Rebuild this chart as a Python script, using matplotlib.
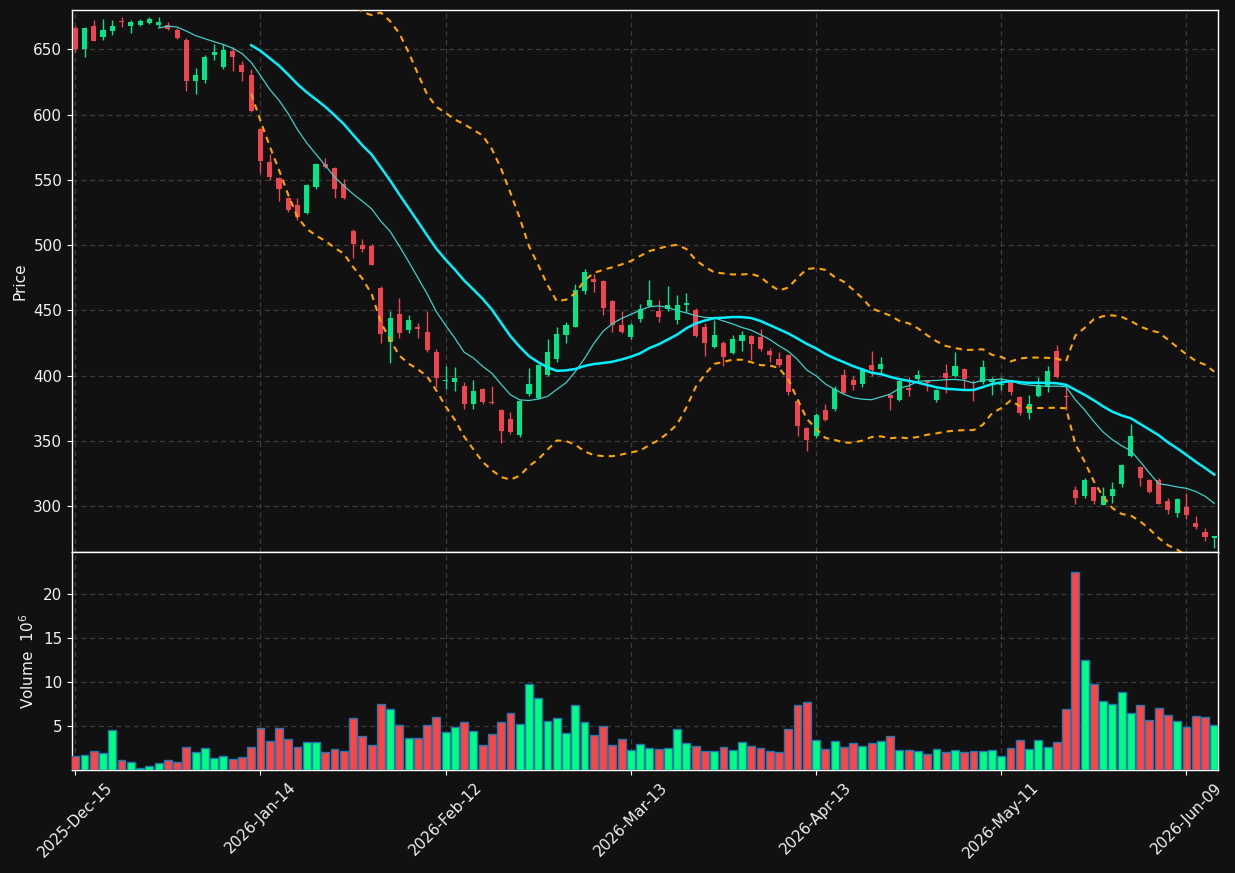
"""Candlestick chart with MA10/MA20, Bollinger bands and volume panel."""

import matplotlib
matplotlib.use("Agg")
import matplotlib.pyplot as plt
import numpy as np
import pandas as pd

# trading calendar (NYSE holidays skipped)
start_date = "2025-12-15"
n_bars = 124
holidays = ["2025-12-25", "2026-01-01", "2026-01-19", "2026-02-16",
            "2026-04-03", "2026-05-25"]

opens = [666, 650, 668, 659, 664, 671.5, 667.6, 668.4, 670, 668.4,
         668.4, 664.5, 657, 625.7, 626.5, 645.4, 636.2, 648.5, 637.8, 630,
         588.6, 563.5, 551.3, 536, 530.4, 524.8, 544.6, 562, 559, 546.7,
         510.7, 500, 499.3, 467.1, 426, 447.3, 435.2, 437.5, 433.5, 418.2,
         396, 395.5, 392.2, 378.6, 389.9, 380, 373.8, 366.9, 354.9, 386,
         383, 400.6, 413, 431.4, 437.5, 465, 474, 472.5, 457.2, 438.8,
         430, 443.4, 453.4, 449.5, 451, 442.7, 454.5, 450.3, 437.3, 422,
         425, 417.4, 426.6, 430.4, 429.6, 418.9, 412.8, 415.9, 380.7, 360.3,
         354.1, 373.8, 374.6, 400.3, 396.7, 393.7, 408.2, 405.2, 385.3, 381.5,
         390.6, 397.5, 396, 381.5, 402.1, 399.8, 405.2, 389.9, 395.2, 395.2,
         393, 395.2, 383.5, 371.7, 384.7, 391.6, 418.9, 384.5, 312.3, 307.5,
         314.6, 301.3, 308.2, 316.7, 338.8, 330.2, 320, 320, 304.2, 295,
         299.6, 287.3, 280.4, 276]
highs = [668, 667, 672, 673, 672, 675, 672, 673, 674.5, 675,
         671, 666, 658.4, 636, 645.4, 653.8, 653.8, 651.5, 640.8, 634.7,
         590, 569.7, 552, 537, 535.8, 547, 563, 567, 560, 550.8,
         512.3, 504.6, 501, 468.7, 449.5, 459.5, 446.5, 440, 449.5, 420.7,
         407.5, 406.7, 395.5, 397, 390.5, 392.2, 374.5, 372, 381.5, 405.7,
         409, 428.1, 437.3, 441.1, 470, 481.7, 477.8, 473.5, 458, 449.3,
         440, 455, 473.3, 458, 468.7, 461.8, 463.3, 451.5, 440.4, 442.7,
         426.5, 431.2, 434.2, 431, 435.8, 421.2, 418.2, 416.5, 381.5, 361,
         371.5, 378.4, 392.2, 405, 399.8, 406, 418.9, 414.3, 386, 397,
         399, 404.4, 397, 390, 409, 418.2, 406, 396.7, 412, 399,
         399, 396, 384.5, 385.5, 398.8, 407.5, 423.7, 391.6, 315.4, 321.5,
         315, 314.4, 318.9, 332.7, 363.3, 331, 321, 321.5, 306.7, 306,
         309.8, 292.2, 283.5, 277.5]
lows = [648, 644, 656, 657, 661, 667, 662.5, 667.5, 669.5, 667,
        664.7, 658, 618, 616, 624, 641.6, 634.7, 633, 625.7, 601.8,
        555, 549.8, 533.5, 525, 519, 524, 543, 559, 535.8, 535.5,
        490, 495, 485, 425.3, 409.5, 429, 433, 429, 418, 391.4,
        389.6, 388, 374.3, 374.3, 378, 378, 348.3, 355.4, 352.9, 384.3,
        382, 399.5, 410.5, 425.3, 437, 462.3, 464.3, 446.7, 433.7, 432.6,
        428, 441, 452.5, 441.4, 449.5, 439.4, 448.6, 430, 415.3, 421.5,
        407.7, 416.5, 419, 412, 419.2, 410.5, 407, 385, 354, 342,
        352.4, 365.5, 372.8, 386.5, 389.1, 391.6, 400, 402.1, 373.8, 380.5,
        384.5, 396, 388.3, 380, 386.8, 399, 390, 380.7, 394, 385.3,
        389, 385.5, 369.7, 366.7, 384, 387.6, 398.5, 373.8, 302, 306,
        302, 301, 302.9, 315, 337.6, 315.4, 310, 301.5, 294, 291.7,
        290.6, 282.7, 273.6, 267.7]
closes = [650, 666, 656.4, 665, 667.6, 671, 670.7, 671.4, 673, 670.7,
          665.3, 658.6, 625.7, 630, 644, 647.7, 649.2, 643.9, 632.4, 602.6,
          564.5, 552.3, 543.1, 527, 521.7, 545.7, 562, 559.5, 543.1, 536.2,
          501, 497, 485, 431.9, 444.2, 432.9, 442.7, 436, 420, 398.5,
          397, 398.3, 378, 388, 380, 379.3, 358, 357, 380.7, 393.7,
          408.2, 418.2, 432, 438.8, 465.6, 479.4, 472, 452, 439, 433.7,
          438.6, 451, 458, 445.2, 454.1, 454.1, 455.8, 430.4, 425, 431.2,
          414.3, 428.1, 431.2, 424.3, 420.5, 415.9, 408.2, 387.8, 361.8, 351.1,
          370.2, 366.1, 389.9, 387, 392.9, 405, 404.4, 409, 383, 396,
          389.1, 400.6, 394.5, 389.1, 398.3, 407.5, 397.5, 388.4, 406.7, 397.5,
          394, 387.8, 371.7, 378.4, 392.7, 403.6, 399.3, 384, 306.7, 320,
          304.4, 307.8, 313.1, 331.7, 353.9, 322, 310.8, 302, 296.8, 305.7,
          293.4, 284.3, 276.6, 277]
# volume in millions
volumes = [1.56, 1.68, 2.14, 1.91, 4.54, 1.11, 0.88, 0.19, 0.42, 0.76,
           1.11, 0.88, 2.59, 2.02, 2.48, 1.34, 1.56, 1.22, 1.45, 2.59,
           4.77, 3.28, 4.77, 3.51, 2.59, 3.17, 3.17, 2.02, 2.37, 2.14,
           5.91, 3.85, 2.82, 7.51, 6.94, 5.11, 3.62, 3.62, 5.11, 6.03,
           4.31, 4.88, 5.45, 4.43, 2.82, 4.08, 5.45, 6.48, 5.23, 9.80,
           8.20, 5.57, 5.91, 4.20, 7.40, 5.45, 3.97, 5.00, 2.82, 3.51,
           2.25, 2.94, 2.48, 2.37, 2.48, 4.65, 3.05, 2.71, 2.14, 2.14,
           2.59, 2.25, 3.17, 2.71, 2.48, 2.14, 2.02, 4.65, 7.40, 7.74,
           3.40, 2.37, 3.28, 2.59, 3.05, 2.71, 3.05, 3.28, 3.85, 2.25,
           2.25, 2.14, 1.79, 2.37, 2.02, 2.25, 2.02, 2.14, 2.14, 2.25,
           1.56, 2.48, 3.40, 2.37, 3.40, 2.59, 3.17, 6.94, 22.5, 12.55,
           9.80, 7.86, 7.51, 8.89, 6.48, 7.40, 5.68, 7.06, 6.26, 5.57,
           4.88, 6.14, 6.03, 5.11]

BG = "#111111"
UP, DOWN = "#00e688", "#f04450"
VOL_UP, VOL_DOWN, VOL_EDGE = "#00ff80", "#ff4444", "#1f77b4"

dates = pd.bdate_range(start_date, periods=n_bars, freq="C", holidays=holidays)
df = pd.DataFrame({"open": opens, "high": highs, "low": lows,
                   "close": closes, "volume": volumes}, index=dates)
x = np.arange(len(df))
up = (df["close"] >= df["open"]).to_numpy()

ma10 = df["close"].rolling(10).mean()
ma20 = df["close"].rolling(20).mean()
sd20 = df["close"].rolling(20).std(ddof=0)
bb_hi = ma20 + 2 * sd20
bb_lo = ma20 - 2 * sd20

fig = plt.figure(figsize=(12.35, 8.73), dpi=100, facecolor=BG)
ax = fig.add_axes([0.0583, 0.3677, 0.9279, 0.6208], facecolor=BG)
axv = fig.add_axes([0.0583, 0.1180, 0.9279, 0.2497], facecolor=BG, sharex=ax)

# candles
colors = np.where(up, UP, DOWN)
body_lo = np.minimum(df["open"], df["close"])
body_h = np.maximum(np.abs(df["close"] - df["open"]), 0.6)
ax.vlines(x, df["low"], df["high"], colors=colors, linewidth=1.0, zorder=3)
ax.bar(x, body_h, bottom=body_lo, width=0.55, color=colors, linewidth=0, zorder=4)

ax.plot(x, ma10, color="#3fcfc6", linewidth=0.9, zorder=5)
ax.plot(x, ma20, color="#00f0ff", linewidth=1.8, zorder=5)
ax.plot(x, bb_hi, color="#ffa500", linewidth=1.5, linestyle=(0, (3, 2.5)), zorder=5)
ax.plot(x, bb_lo, color="#ffa500", linewidth=1.5, linestyle=(0, (3, 2.5)), zorder=5)

# volume
vcolors = np.where(up, VOL_UP, VOL_DOWN)
axv.bar(x, df["volume"], width=0.85, color=vcolors, edgecolor=VOL_EDGE,
        linewidth=1.0, zorder=3)

ax.set_ylim(265, 680)
axv.set_ylim(0, 24.8)
ax.set_xlim(-0.35, 123.4)
axv.set_yticks([5, 10, 15, 20])

tick_idx = list(range(0, n_bars, 20))
axv.set_xticks(tick_idx)
axv.set_xticklabels([dates[i].strftime("%Y-%b-%d") for i in tick_idx],
                    rotation=45, fontsize=11)
ax.tick_params(axis="x", labelbottom=False, length=0)

for a in (ax, axv):
    a.grid(True, color="#3c3c3c", linestyle=(0, (4, 3)), linewidth=0.9)
    a.set_axisbelow(True)
    for s in a.spines.values():
        s.set_color("white")
        s.set_linewidth(1.0)
    a.tick_params(colors="white", labelcolor="#f0f0f0", labelsize=11)

ax.set_ylabel("Price", color="#f0f0f0", fontsize=11)
axv.set_ylabel("Volume  $10^{6}$", color="#f0f0f0", fontsize=11)

fig.savefig("out.png", dpi=100, facecolor=BG)
